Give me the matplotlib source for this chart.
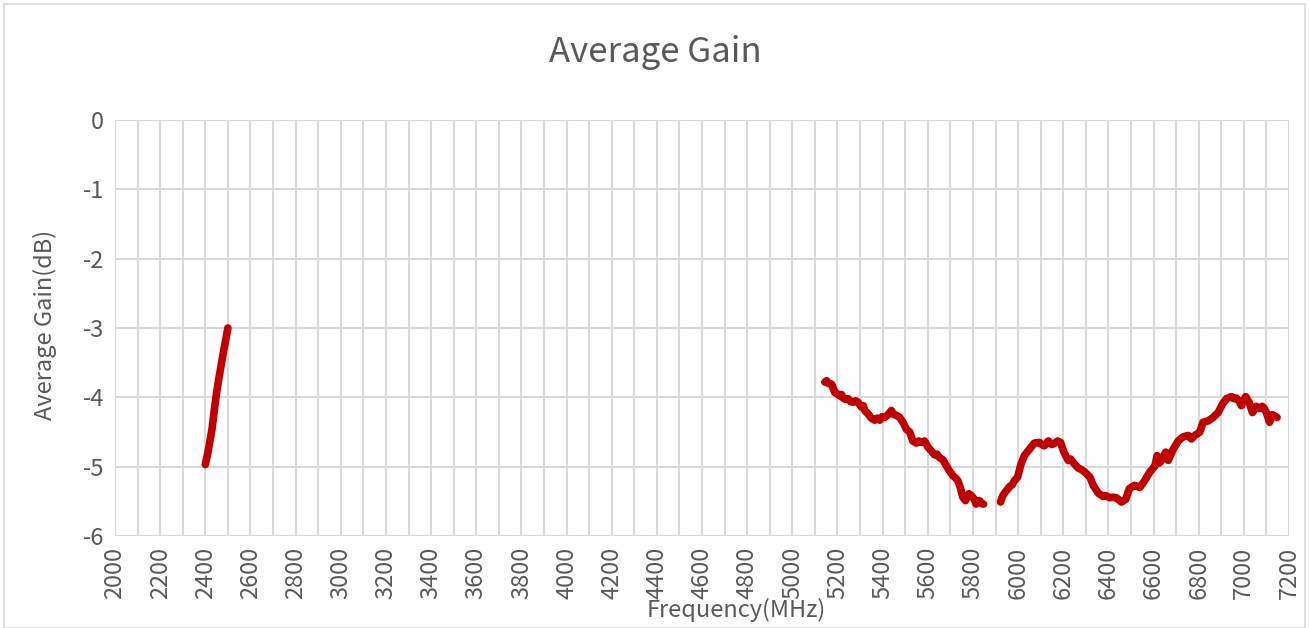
import matplotlib
matplotlib.use("Agg")
import matplotlib.pyplot as plt
from matplotlib.patches import Rectangle

plt.rcParams['axes.unicode_minus'] = False
plt.rcParams['font.family'] = ['Noto Sans CJK SC', 'DejaVu Sans']
plt.rcParams['font.weight'] = 'light'

# ---- data ----
freq_24 = [2400, 2410, 2420, 2430, 2440, 2450, 2460, 2470, 2480, 2490, 2500]
gain_24 = [-4.97, -4.82, -4.64, -4.45, -4.18, -3.93, -3.73, -3.54, -3.35, -3.18, -3.00]

freq_5a = [5144, 5152, 5160, 5174, 5181, 5188, 5200, 5210, 5218, 5225, 5236, 5247, 5258,
           5269, 5280, 5291, 5306, 5314, 5321, 5336, 5350, 5365, 5376, 5387, 5398, 5409,
           5424, 5439, 5446, 5461, 5476, 5490, 5505, 5520, 5534, 5549, 5560, 5571, 5586,
           5601, 5615, 5630, 5641, 5652, 5667, 5681, 5696, 5711, 5722, 5733, 5744, 5755,
           5767, 5775, 5782, 5797, 5806, 5814, 5829, 5838, 5847]
gain_5a = [-3.78, -3.76, -3.80, -3.81, -3.87, -3.93, -3.95, -3.98, -3.96, -4.01, -4.03,
           -4.02, -4.06, -4.07, -4.05, -4.07, -4.14, -4.12, -4.19, -4.24, -4.30, -4.33,
           -4.30, -4.33, -4.28, -4.29, -4.25, -4.19, -4.24, -4.26, -4.29, -4.36, -4.46,
           -4.50, -4.63, -4.66, -4.63, -4.65, -4.63, -4.72, -4.77, -4.83, -4.82, -4.87,
           -4.90, -4.98, -5.06, -5.13, -5.16, -5.20, -5.30, -5.44, -5.49, -5.44, -5.39,
           -5.43, -5.47, -5.54, -5.49, -5.53, -5.54]

freq_6 = [5922, 5932, 5947, 5962, 5974, 5984, 5998, 6013, 6028, 6050, 6072, 6094, 6105,
          6116, 6134, 6150, 6163, 6175, 6188, 6203, 6222, 6233, 6244, 6266, 6280, 6296,
          6318, 6333, 6355, 6377, 6390, 6406, 6420, 6436, 6458, 6477, 6492, 6505, 6517,
          6539, 6561, 6583, 6606, 6616, 6625, 6635, 6654, 6665, 6687, 6709, 6731, 6753,
          6768, 6783, 6805, 6819, 6842, 6864, 6886, 6905, 6923, 6945, 6956, 6967, 6980,
          6989, 7008, 7023, 7038, 7055, 7068, 7082, 7090, 7100, 7114, 7126, 7147]
gain_6 = [-5.51, -5.42, -5.35, -5.29, -5.26, -5.20, -5.15, -4.96, -4.84, -4.75, -4.66,
          -4.65, -4.68, -4.70, -4.63, -4.68, -4.66, -4.63, -4.65, -4.79, -4.91, -4.89,
          -4.94, -5.02, -5.04, -5.08, -5.15, -5.27, -5.38, -5.43, -5.42, -5.45, -5.44,
          -5.45, -5.51, -5.47, -5.32, -5.29, -5.27, -5.30, -5.20, -5.08, -4.99, -4.84,
          -4.95, -4.91, -4.79, -4.91, -4.75, -4.63, -4.57, -4.55, -4.60, -4.55, -4.50,
          -4.36, -4.34, -4.29, -4.22, -4.10, -4.02, -3.99, -4.02, -4.01, -4.06, -4.12,
          -3.99, -4.07, -4.22, -4.13, -4.16, -4.13, -4.16, -4.22, -4.36, -4.25, -4.29]

x_ticks = list(range(2000, 7201, 200))
x_tick_labels = [str(v) for v in x_ticks]
y_ticks = [0, -1, -2, -3, -4, -5, -6]
y_tick_labels = ['0', '-1', '-2', '-3', '-4', '-5', '-6']

title = 'Average Gain'
x_label = 'Frequency(MHz)'
y_label = 'Average Gain(dB)'

# ---- figure ----
W, H = 1309, 628
fig = plt.figure(figsize=(W / 100, H / 100), dpi=100)
fig.patch.set_facecolor('white')
fig.add_artist(Rectangle((4 / W, 0.0), (1305 - 4) / W, 1 - 4 / H,
                         transform=fig.transFigure, fill=False,
                         edgecolor='#D9D9D9', linewidth=1.2))

left, right, top, bottom = 115, 1289, 120, 536
ax = fig.add_axes([left / W, 1 - bottom / H, (right - left) / W, (bottom - top) / H])

grey = '#595959'
line_color = '#C00000'

for xs, ys in [(freq_24, gain_24), (freq_5a, gain_5a), (freq_6, gain_6)]:
    ax.plot(xs, ys, color=line_color, linewidth=5.5, solid_capstyle='round',
            solid_joinstyle='round', zorder=3)

ax.set_xlim(2000, 7200)
ax.set_ylim(-6, 0)
ax.set_xticks(x_ticks)
ax.set_xticklabels(x_tick_labels, rotation=90, fontsize=17, color=grey)
ax.set_xticks(range(2100, 7200, 200), minor=True)
ax.set_yticks(y_ticks)
ax.set_yticklabels(y_tick_labels, fontsize=17, color=grey)

ax.grid(True, which='both', axis='x', color='#D9D9D9', linewidth=1.5, zorder=0)
ax.grid(True, which='major', axis='y', color='#D9D9D9', linewidth=1.5, zorder=0)
ax.tick_params(which='both', length=0, pad=8)
for s in ax.spines.values():
    s.set_visible(False)
ax.set_axisbelow(True)

ax.set_xlabel(x_label, fontsize=17, color=grey)
ax.xaxis.set_label_coords((736 - left) / (right - left), (bottom - 610) / (bottom - top))
ax.xaxis.label.set_va('center')
ax.set_ylabel(y_label, fontsize=17, color=grey)
ax.yaxis.set_label_coords((45 - left) / (right - left), (bottom - 325) / (bottom - top))
ax.yaxis.label.set_va('center')

fig.text(655 / W, 1 - 52 / H, title, fontsize=25, color=grey, ha='center', va='center')

fig.savefig('out.png', dpi=100, facecolor='white')
